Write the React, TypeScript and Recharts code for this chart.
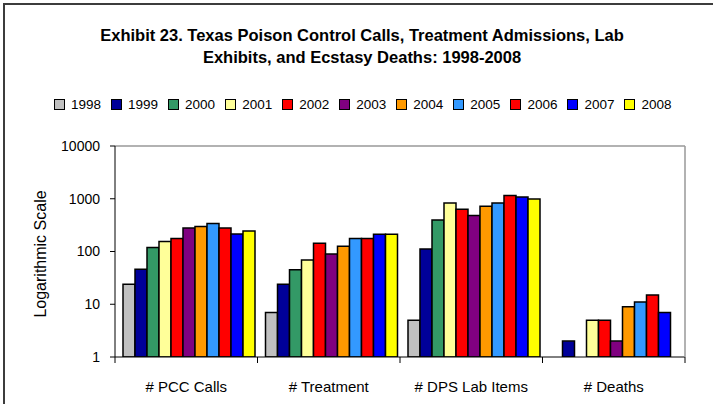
import { BarChart, Bar, XAxis, YAxis, ReferenceLine, Label } from 'recharts';

const categories = ['# PCC Calls', '# Treatment', '# DPS Lab Items', '# Deaths'];
const years = ['1998', '1999', '2000', '2001', '2002', '2003', '2004', '2005', '2006', '2007', '2008'];

// values per year, in category order (null = no bar)
const y1998 = [24, 7, 5, null];
const y1999 = [46, 24, 111, 2];
const y2000 = [119, 45, 395, null];
const y2001 = [154, 69, 830, 5];
const y2002 = [176, 143, 631, 5];
const y2003 = [279, 90, 479, 2];
const y2004 = [297, 126, 719, 9];
const y2005 = [338, 176, 830, 11];
const y2006 = [279, 176, 1148, 15];
const y2007 = [215, 212, 1079, 7];
const y2008 = [245, 212, 989, null];

const yTicks = [1, 10, 100, 1000, 10000];

const series = [y1998, y1999, y2000, y2001, y2002, y2003, y2004, y2005, y2006, y2007, y2008];
const colors = ['#C0C0C0', '#000099', '#339966', '#FFFF99', '#FF0000', '#800080', '#FF9900', '#3399FF', '#FF0000', '#0000FF', '#FFFF00'];

const data = categories.map((name, i) => {
  const row: Record<string, string | number | null> = { name };
  years.forEach((yr, j) => {
    row[yr] = series[j][i];
  });
  return row;
});

const W = 713;
const H = 404;
const PLOT_LEFT = 115;
const PLOT_RIGHT = 685;
const PLOT_TOP = 146;
const PLOT_BOTTOM = 357;
const BAND = (PLOT_RIGHT - PLOT_LEFT) / categories.length;
const FONT = '"Liberation Sans", Arial, sans-serif';

function CategoryTick(props: any) {
  const { x, payload, index } = props;
  return (
    <g>
      <line x1={x - BAND / 2} x2={x - BAND / 2} y1={PLOT_BOTTOM} y2={PLOT_BOTTOM + 6} stroke="#000" />
      {index === categories.length - 1 && (
        <line x1={x + BAND / 2} x2={x + BAND / 2} y1={PLOT_BOTTOM} y2={PLOT_BOTTOM + 6} stroke="#000" />
      )}
      <text x={x} y={PLOT_BOTTOM + 35} textAnchor="middle" fontSize={15} fill="#000" fontFamily={FONT}>
        {payload.value}
      </text>
    </g>
  );
}

export default function App() {
  return (
    <div style={{ position: 'absolute', left: 0, top: 0, width: W, height: H, background: '#fff', overflow: 'hidden', fontFamily: FONT }}>
      <div style={{ position: 'absolute', left: 3, top: 3, width: 800, height: 600, border: '2px solid #3c3c3c' }} />
      <div style={{ position: 'absolute', left: 0, top: 24, width: 724, textAlign: 'center', fontSize: 16.5, fontWeight: 'bold', lineHeight: '22px', color: '#000' }}>
        Exhibit 23. Texas Poison Control Calls, Treatment Admissions, Lab
        <br />
        Exhibits, and Ecstasy Deaths: 1998-2008
      </div>
      <div style={{ position: 'absolute', left: 54, top: 97, display: 'flex', alignItems: 'center', fontSize: 13.5, color: '#000' }}>
        {years.map((yr, i) => (
          <div key={yr} style={{ display: 'flex', alignItems: 'center', marginRight: i < years.length - 1 ? 10 : 0 }}>
            <div style={{ width: 9, height: 9, background: colors[i], border: '1px solid #000', marginRight: 6 }} />
            <span>{yr}</span>
          </div>
        ))}
      </div>
      <div style={{ position: 'absolute', left: 0, top: 0 }}>
        <BarChart
          width={W}
          height={H}
          data={data}
          margin={{ top: PLOT_TOP, right: W - PLOT_RIGHT - 1, bottom: H - PLOT_BOTTOM - 40, left: PLOT_LEFT - 60 }}
          barCategoryGap={8}
          barGap={0}
        >
          <XAxis
            dataKey="name"
            height={40}
            tickLine={false}
            axisLine={{ stroke: '#000' }}
            tick={<CategoryTick />}
            interval={0}
          />
          <YAxis
            yAxisId="left"
            width={60}
            scale="log"
            domain={[1, 10000]}
            ticks={yTicks}
            allowDataOverflow
            tickSize={5}
            tickMargin={10}
            tickLine={{ stroke: '#000' }}
            axisLine={{ stroke: '#000' }}
            tick={{ fill: '#000', fontSize: 14, fontFamily: FONT }}
          >
            <Label
              content={() => (
                <text x={42} y={254} transform="rotate(-90 42 254)" textAnchor="middle" dominantBaseline="middle" fontSize={16} fontFamily={FONT} fill="#000">
                  Logarithmic Scale
                </text>
              )}
            />
          </YAxis>
          <YAxis
            yAxisId="right"
            orientation="right"
            width={1}
            scale="log"
            domain={[1, 10000]}
            allowDataOverflow
            tick={false}
            tickLine={false}
            axisLine={{ stroke: '#999', strokeWidth: 1.5 }}
          />
          <ReferenceLine yAxisId="left" y={10000} stroke="#999" strokeWidth={1.5} />
          {years.map((yr, i) => (
            <Bar
              key={yr}
              yAxisId="left"
              dataKey={yr}
              fill={colors[i]}
              stroke="#000"
              strokeWidth={1.5}
              isAnimationActive={false}
            />
          ))}
        </BarChart>
      </div>
    </div>
  );
}
